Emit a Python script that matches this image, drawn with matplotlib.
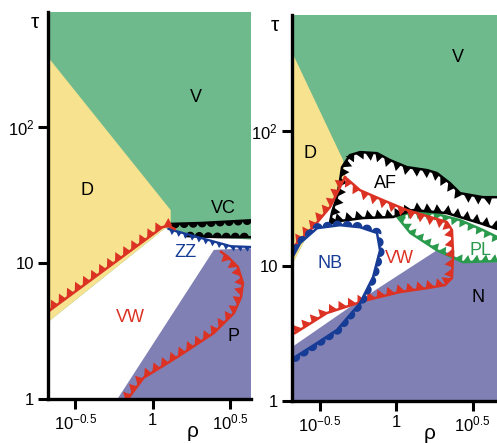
import numpy as np
import matplotlib.pyplot as plt
from matplotlib.patches import Polygon
from matplotlib.ticker import NullLocator

plt.rcParams['font.family'] = ['Liberation Sans', 'DejaVu Sans']
plt.rcParams['mathtext.fontset'] = 'custom'
plt.rcParams['mathtext.rm'] = 'Liberation Sans'
plt.rcParams['mathtext.default'] = 'regular'

GREEN = '#6fba8c'
YELLOW = '#f6e28f'
PURPLE = '#8080b5'
RED = '#dc3223'
BLUE = '#163c96'
PLGREEN = '#2a9a4c'

xticks = [10 ** -0.5, 1, 10 ** 0.5]
xticklabels = ['$10^{-0.5}$', '1', '$10^{0.5}$']
yticks = [1, 10, 100]
yticklabels = ['1', '10', '$10^2$']

# ---------- left panel: phase regions ----------
L_D_rho = [0.211, 1.31, 1.31, 1.21, 0.211]
L_D_tau = [327, 24.5, 18.7, 18.1, 3.68]
L_white_rho = [0.211, 1.21, 1.41, 2.38, 4.6, 4.6, 0.211]
L_white_tau = [3.68, 18.1, 16.8, 15.5, 14.8, 0.9, 0.9]
L_P_rho = [0.593, 2.49, 4.6, 4.6]
L_P_tau = [1.0, 12.5, 12.9, 0.9]

# left panel: boundaries
L_red_top_rho = [0.218, 1.05, 1.16, 1.27, 1.39]
L_red_top_tau = [4.51, 16.9, 18.4, 18.7, 17.8]
L_red_low_rho = [0.668, 0.874, 1.45, 2.49, 3.36, 3.73, 3.84, 3.56, 3.07, 2.77]
L_red_low_tau = [0.95, 1.43, 2.04, 3.06, 4.29, 5.62, 7.13, 9.35, 11.1, 12.1]
L_vc_top_rho = [1.31, 2.05, 4.6]
L_vc_top_tau = [19.4, 19.7, 20.7]
L_vc_low_rho = [1.64, 2.77, 4.6]
L_vc_low_tau = [15.8, 15.5, 15.5]
L_zz_rho = [1.27, 2.05, 3.21, 4.6]
L_zz_tau = [17.8, 15.3, 13.3, 13.1]

# ---------- right panel: phase regions ----------
R_D_rho = [0.209, 0.451, 0.464, 0.371, 0.274, 0.209]
R_D_tau = [385, 61.0, 47.2, 28.3, 18.5, 10.2]
R_white_rho = [0.209, 0.274, 0.371, 0.411, 0.431, 0.444, 0.500, 0.582, 0.751, 0.914,
               1.18, 1.60, 1.85, 2.25, 2.62, 3.70, 4.8, 4.8, 0.209]
R_white_tau = [10.2, 18.5, 28.3, 32.4, 43.4, 54.1, 66.4, 69.9, 68.7, 61.0,
               54.1, 51.4, 48.9, 41.2, 34.7, 32.4, 32.4, 0.9, 0.9]
R_N_rho = [0.209, 0.582, 1.85, 2.25, 2.74, 4.8, 4.8, 0.209]
R_N_tau = [2.51, 5.60, 13.1, 12.5, 10.7, 10.7, 0.9, 0.9]

# right panel: boundaries
R_af_rho = [4.8, 3.54, 2.15, 1.29, 0.955, 0.608, 0.478, 0.371, 0.382, 0.411, 0.431, 0.444,
            0.500, 0.582, 0.751, 0.914, 1.18, 1.60, 1.85, 2.25, 2.62, 3.70, 4.8]
R_af_tau = [18.5, 20.8, 24.7, 26.0, 23.1, 22.7, 21.9, 21.2, 25.1, 32.4, 43.4, 54.1,
            66.4, 69.9, 68.7, 61.0, 54.1, 51.4, 48.9, 41.2, 34.7, 32.4, 32.4]
R_red_d_rho = [0.205, 0.225, 0.287, 0.371, 0.464]
R_red_d_tau = [12.6, 14.8, 19.4, 27.4, 45.6]
R_red_vw_rho = [0.464, 0.582, 0.822, 1.18, 1.67, 2.15, 2.32, 2.36, 2.32, 2.09, 1.60,
                1.06, 0.646, 0.354, 0.219, 0.205]
R_red_vw_tau = [45.6, 36.5, 30.8, 26.0, 23.1, 21.2, 18.5, 12.1, 8.15, 7.23, 6.87,
                6.42, 5.60, 4.49, 3.19, 3.1]
R_nb_rho = [0.205, 0.219, 0.305, 0.411, 0.582, 0.708, 0.786, 0.751, 0.582, 0.431, 0.305, 0.236, 0.205]
R_nb_tau = [2.05, 2.12, 2.69, 3.36, 5.32, 8.29, 13.1, 17.6, 19.4, 20.1, 19.1, 14.8, 11.0]
R_pl_rho = [4.8, 3.70, 2.62, 1.75, 1.24, 1.02, 1.24, 1.85, 2.74, 4.8]
R_pl_tau = [16.0, 18.5, 21.9, 24.7, 25.1, 23.1, 17.6, 13.1, 10.7, 10.9]


def decorate(ax, rho, tau, color, kind='tri', side=1, step=10, w=9, h=8, lw=1.8):
    ax.plot(rho, tau, color=color, lw=lw, solid_joinstyle='round', zorder=3)
    pts = ax.transData.transform(np.column_stack([rho, tau]))
    seg = np.diff(pts, axis=0)
    seglen = np.hypot(seg[:, 0], seg[:, 1])
    s = np.concatenate([[0], np.cumsum(seglen)])
    inv = ax.transData.inverted()
    for si in np.arange(step / 2, s[-1] - w / 2, step):
        i = min(np.searchsorted(s, si, side='right') - 1, len(seg) - 1)
        t = seg[i] / seglen[i]
        n = side * np.array([-t[1], t[0]])
        p = pts[i] + t * (si - s[i])
        if kind == 'tri':
            verts = [p - t * w / 2, p + t * w / 2, p + t * w * 0.2 + n * h]
        else:
            a = np.linspace(0, np.pi, 14)
            verts = [p + w / 2 * (np.cos(v) * t + np.sin(v) * n) for v in a]
        ax.add_patch(Polygon(inv.transform(np.array(verts)), closed=True,
                             fc=color, ec='none', zorder=3))


def setup(ax, xlim, ylim):
    ax.set_xscale('log')
    ax.set_yscale('log')
    ax.set_xlim(*xlim)
    ax.set_ylim(*ylim)
    ax.set_facecolor(GREEN)
    ax.set_xticks(xticks)
    ax.set_xticklabels(xticklabels)
    ax.set_yticks(yticks)
    ax.set_yticklabels(yticklabels)
    ax.xaxis.set_minor_locator(NullLocator())
    ax.yaxis.set_minor_locator(NullLocator())
    ax.tick_params(direction='out', length=7, width=2.2, labelsize=12, pad=3)
    for k in ['top', 'right']:
        ax.spines[k].set_visible(False)
    for k in ['left', 'bottom']:
        ax.spines[k].set_linewidth(2.4)
        ax.spines[k].set_zorder(5)


fig = plt.figure(figsize=(4.97, 4.43), dpi=100)

# left panel
ax1 = fig.add_axes([0.0966, 0.0993, 0.4085, 0.8736])
setup(ax1, (0.211, 4.33), (1, 702))
ax1.fill(L_white_rho, L_white_tau, color='white', lw=0, zorder=1)
ax1.fill(L_D_rho, L_D_tau, color=YELLOW, lw=0, zorder=1)
ax1.fill(L_P_rho, L_P_tau, color=PURPLE, lw=0, zorder=1)
decorate(ax1, L_vc_top_rho, L_vc_top_tau, 'black', kind='circ', side=-1, step=9, w=9)
decorate(ax1, L_vc_low_rho, L_vc_low_tau, 'black', kind='circ', side=1, step=9, w=9)
decorate(ax1, L_zz_rho, L_zz_tau, BLUE, side=-1, step=7, w=6, h=5, lw=1.6)
decorate(ax1, L_red_top_rho, L_red_top_tau, RED, side=1)
decorate(ax1, L_red_low_rho, L_red_low_tau, RED, side=1)

ax1.text(1.90, 166, 'V', fontsize=13, ha='center', va='center')
ax1.text(0.378, 34.4, 'D', fontsize=13, ha='center', va='center')
ax1.text(2.85, 25.4, 'VC', fontsize=13, ha='center', va='center')
ax1.text(1.64, 12.0, 'ZZ', fontsize=13, color=BLUE, ha='center', va='center')
ax1.text(0.72, 4.01, 'VW', fontsize=13, color=RED, ha='center', va='center')
ax1.text(3.36, 2.86, 'P', fontsize=13, ha='center', va='center')
ax1.text(-0.064, 0.972, 'τ', fontsize=15, ha='center', va='center', transform=ax1.transAxes)
ax1.text(0.714, -0.083, 'ρ', fontsize=15, ha='center', va='center', transform=ax1.transAxes)

# right panel
ax2 = fig.add_axes([0.5875, 0.0948, 0.4125, 0.871])
setup(ax2, (0.209, 4.57), (1, 724))
ax2.fill(R_white_rho, R_white_tau, color='white', lw=0, zorder=1)
ax2.fill(R_D_rho, R_D_tau, color=YELLOW, lw=0, zorder=1)
ax2.fill(R_N_rho, R_N_tau, color=PURPLE, lw=0, zorder=1)
decorate(ax2, R_pl_rho, R_pl_tau, PLGREEN, side=1, step=9, w=8, h=7)
decorate(ax2, R_af_rho, R_af_tau, 'black', side=-1)
decorate(ax2, R_red_d_rho, R_red_d_tau, RED, side=1)
decorate(ax2, R_red_vw_rho, R_red_vw_tau, RED, side=-1)
decorate(ax2, R_nb_rho, R_nb_tau, BLUE, kind='circ', side=-1, step=10, w=10)

ax2.text(2.54, 353, 'V', fontsize=13, ha='center', va='center')
ax2.text(0.274, 68.7, 'D', fontsize=13, ha='center', va='center')
ax2.text(0.847, 41.2, 'AF', fontsize=13, ha='center', va='center', zorder=4)
ax2.text(0.371, 10.5, 'NB', fontsize=13, color=BLUE, ha='center', va='center')
ax2.text(1.06, 11.3, 'VW', fontsize=13, color=RED, ha='center', va='center')
ax2.text(3.54, 13.1, 'PL', fontsize=13, color=PLGREEN, ha='center', va='center', zorder=4)
ax2.text(3.44, 5.89, 'N', fontsize=13, ha='center', va='center')
ax2.text(-0.083, 0.974, 'τ', fontsize=15, ha='center', va='center', transform=ax2.transAxes)
ax2.text(0.673, -0.083, 'ρ', fontsize=15, ha='center', va='center', transform=ax2.transAxes)

fig.savefig('out.png', dpi=100)
